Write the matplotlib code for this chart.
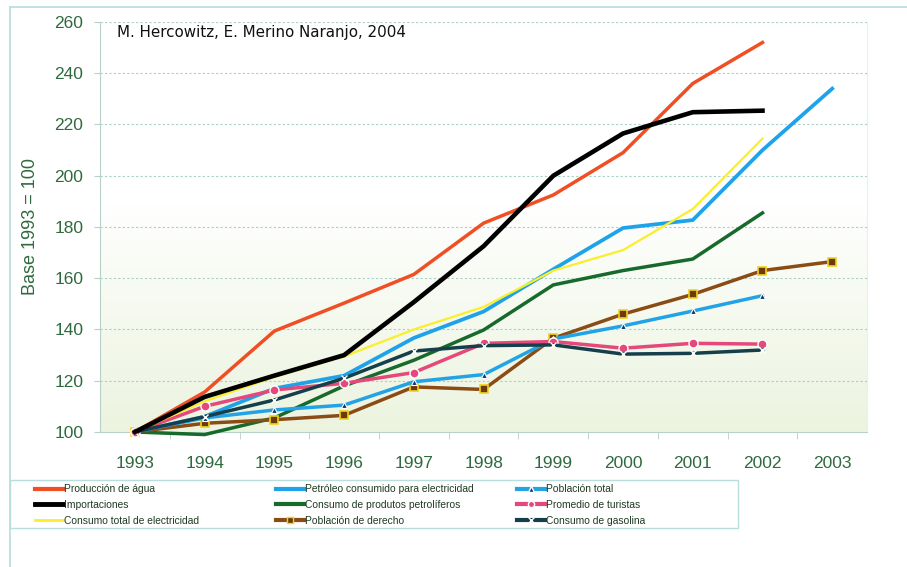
import numpy as np
import matplotlib
matplotlib.use("Agg")
from matplotlib import pyplot as plt
from matplotlib.lines import Line2D
from matplotlib.patches import Rectangle

years = list(range(1993, 2004))

produccion_agua = [100, 115.6, 139.4, 150.3, 161.5, 181.5, 192.5, 209, 236, 252]
importaciones = [100, 113.7, 122, 130, 150.7, 172.5, 200, 216.5, 224.8, 225.4]
consumo_electricidad = [100, 112, 121.5, 129.5, 140, 148.8, 163, 171, 187, 214.5]
petroleo_electricidad = [100, 106, 117, 122, 136.7, 147, 163.5, 179.6, 182.7, 210, 234]
produtos_petroliferos = [100, 99, 105.5, 118, 128, 139.8, 157.4, 163, 167.5, 185.5]
poblacion_derecho = [100, 103.4, 104.8, 106.5, 117.6, 116.6, 136.6, 146, 153.7, 163, 166.5]
poblacion_total = [100, 105.5, 108.6, 110.5, 119.6, 122.4, 136.3, 141.4, 147.2, 153.2]
promedio_turistas = [100, 110, 116.4, 119, 123.2, 134.6, 135.3, 132.7, 134.6, 134.3]
consumo_gasolina = [100, 106, 112.5, 121, 131.6, 133.7, 134, 130.4, 130.7, 132]

green_txt = "#2e6a3e"
frame_col = "#b9dcdc"
arial = ["Liberation Sans", "DejaVu Sans"]

fig = plt.figure(figsize=(9.07, 5.67), dpi=100)
ax = fig.add_axes([0.1103, 0.2381, 0.8457, 0.7231])

# pale green gradient at the bottom of the plot area
grad = np.linspace(0, 1, 256).reshape(-1, 1)
grad = np.clip((grad - 0.45) / 0.55, 0, 1) ** 0.9
top_c = np.array([1.0, 1.0, 1.0])
bot_c = np.array([0.925, 0.957, 0.878])
img = top_c + (bot_c - top_c) * grad[..., None]
ax.imshow(img, extent=[1992.5, 2003.5, 100, 260], aspect="auto", zorder=0)

ax.set_xlim(1992.5, 2003.5)
ax.set_ylim(100, 260)

for v in range(120, 261, 20):
    ax.axhline(v, color="#a9cfc9", lw=0.8, ls=(0, (2, 2)), zorder=1)

def plot_series(vals, **kw):
    ax.plot(years[:len(vals)], vals, solid_joinstyle="miter", clip_on=False, **kw)

plot_series(produccion_agua, color="#f04e23", lw=2.5, zorder=5)
plot_series(petroleo_electricidad, color="#1ea3ea", lw=2.7, zorder=4)
plot_series(produtos_petroliferos, color="#17692c", lw=2.5, zorder=4)
plot_series(poblacion_derecho, color="#8a4b14", lw=2.5, marker="s", ms=6,
            mfc="#6b3a0e", mec="#f2d21c", mew=1.2, zorder=5)
plot_series(poblacion_total, color="#22a3e6", lw=2.5, marker="^", ms=5,
            mfc="#17356e", mec="white", mew=0.8, zorder=5)
plot_series(promedio_turistas, color="#e5487a", lw=2.5, marker="o", ms=6.5,
            mfc="#e5487a", mec="white", mew=1.0, zorder=5)
plot_series(consumo_gasolina, color="#153f4b", lw=2.5, marker="x", ms=5,
            mec="white", mew=1.0, zorder=5)
plot_series(consumo_electricidad, color="#fbee2a", lw=1.6, zorder=6)
plot_series(importaciones, color="black", lw=3.3, zorder=7)

ax.set_yticks(range(100, 261, 20))
ax.set_xticks(years)
ax.set_xticks([y + 0.5 for y in years[:-1]], minor=True)
ax.tick_params(axis="x", which="major", length=0, pad=17, labelsize=12.5, labelcolor=green_txt)
ax.tick_params(axis="x", which="minor", length=5, color="#b8d0c8", direction="out")
ax.tick_params(axis="y", length=4, color="#b8d0c8", labelsize=12.5, labelcolor=green_txt, pad=8)
for lab in ax.get_xticklabels() + ax.get_yticklabels():
    lab.set_family(arial)
ax.spines["top"].set_visible(False)
ax.spines["right"].set_color("#e6f2f0")
ax.spines["left"].set_color("#b8d0c8")
ax.spines["bottom"].set_color("#b8d0c8")

ax.set_ylabel("Base 1993 = 100", color=green_txt, fontsize=13, labelpad=11, family=arial)
ax.text(0.022, 0.993, "M. Hercowitz, E. Merino Naranjo, 2004", transform=ax.transAxes,
        fontsize=10.9, va="top", ha="left", color="#111111")

# legend below the plot, three columns
handles = [
    Line2D([], [], color="#f04e23", lw=3),
    Line2D([], [], color="black", lw=3.5),
    Line2D([], [], color="#fbee2a", lw=2),
    Line2D([], [], color="#1ea3ea", lw=3),
    Line2D([], [], color="#17692c", lw=3),
    Line2D([], [], color="#8a4b14", lw=3, marker="s", ms=5, mfc="#6b3a0e", mec="#f2d21c"),
    Line2D([], [], color="#22a3e6", lw=3, marker="^", ms=4, mfc="#17356e", mec="white"),
    Line2D([], [], color="#e5487a", lw=3, marker="o", ms=4.5, mec="white"),
    Line2D([], [], color="#153f4b", lw=3, marker="x", ms=4, mec="white"),
]
labels = ["Producción de água", "Importaciones", "Consumo total de electricidad",
          "Petróleo consumido para electricidad", "Consumo de produtos petrolíferos",
          "Población de derecho", "Población total", "Promedio de turistas",
          "Consumo de gasolina"]
col_x = [28, 269, 510]
for c in range(3):
    leg = fig.legend(handles[3 * c:3 * c + 3], labels[3 * c:3 * c + 3], loc="upper left",
                     bbox_to_anchor=(col_x[c] / 907, 1 - 477 / 567), frameon=False,
                     borderpad=0.2, handlelength=2.7, handletextpad=0.1, labelspacing=0.55,
                     prop={"family": arial, "size": 7.4})
    for t in leg.get_texts():
        t.set_color("#1f3a22")

fig.add_artist(Rectangle((10 / 907, 1 - 528 / 567), 728 / 907, 48 / 567, fill=False,
                         ec=frame_col, lw=1.0, transform=fig.transFigure))

# outer frame lines
fig.add_artist(Line2D([10 / 907, 10 / 907], [0, 1 - 7 / 567], color=frame_col, lw=1.2, transform=fig.transFigure))
fig.add_artist(Line2D([10 / 907, 1], [1 - 7 / 567, 1 - 7 / 567], color=frame_col, lw=1.2, transform=fig.transFigure))

fig.savefig("out.png", dpi=100)
